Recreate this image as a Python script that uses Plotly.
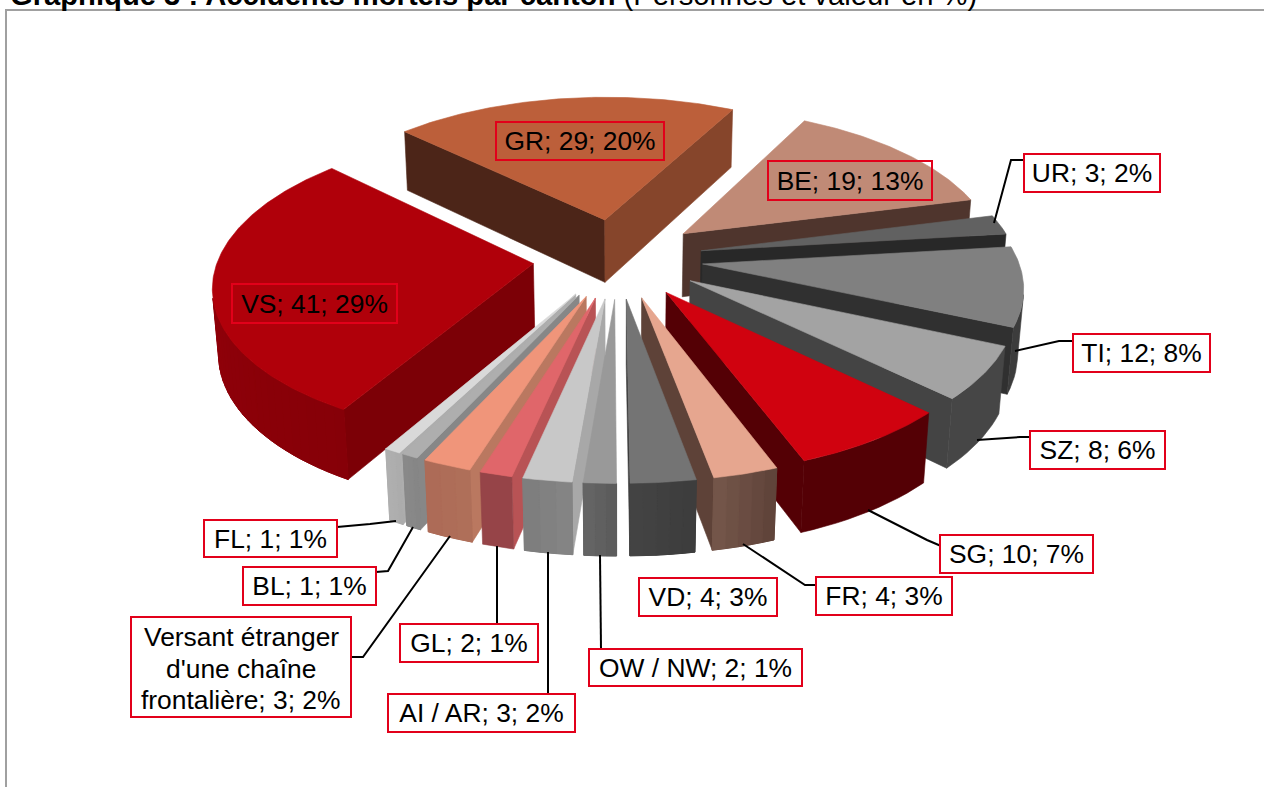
import math
import plotly.graph_objects as go

# ---- data (clockwise from the back-left edge of GR) ----
cantons = ["GR", "BE", "UR", "TI", "SZ", "SG", "FR", "VD", "OW / NW", "AI / AR", "GL",
           "Versant étranger<br>d'une chaîne<br>frontalière", "BL", "FL", "VS"]
persons = [29, 19, 3, 12, 8, 10, 4, 4, 2, 3, 2, 3, 1, 1, 41]
percent = [20, 13, 2, 8, 6, 7, 3, 3, 1, 2, 1, 2, 1, 1, 29]

# ---- styles ----
top_col = ["#BC5F3A", "#C08A76", "#616161", "#808080", "#A3A3A3", "#D0020F", "#E6A68F", "#747474",
           "#999999", "#C8C8C8", "#E0666A", "#F0957A", "#AEAEAE", "#D9D9D9", "#B0000A"]
face0_col = ["#4C2518", "#4F352D", "#282828", "#303030", "#444444", "#540005", "#5E4238", "#3C3C3C",
             "#A8A8A8", "#A8A8A8", "#B85355", "#BA7860", "#878787", "#ADADAD", "#7C0006"]
face1_col = ["#86452B", "#4F352D", "#282828", "#303030", "#444444", "#540005", "#5E4238", "#3C3C3C",
             "#A8A8A8", "#A8A8A8", "#B85355", "#BA7860", "#878787", "#ADADAD", "#7C0006"]
rim0_col = ["#4C2518", "#4F352D", "#333333", "#3C3C3C", "#464646", "#540005", "#5E4238", "#3C3C3C",
            "#5A5A5A", "#868686", "#964448", "#B0705A", "#858585", "#ABABAB", "#860008"]
rim1_col = ["#4C2518", "#4F352D", "#333333", "#3C3C3C", "#464646", "#540005", "#75574B", "#444444",
            "#666666", "#7C7C7C", "#964448", "#AC6A56", "#8A8A8A", "#B0B0B0", "#9A000A"]

# ---- camera ----
START = -46.0
EXPLODE = 0.27
CX, CY, SX, SY, SZ_, K, M = 618.0, 258.0, 315.0, 148.0, 65.0, 0.131, 0.015


def proj(x, y, z):
    s = 1.0 / (1.0 + K * y - M * z)
    return CX + SX * x * s, CY - SY * y * s - SZ_ * z * s


def area(p):
    return sum(p[i][0] * p[(i + 1) % len(p)][1] - p[(i + 1) % len(p)][0] * p[i][1] for i in range(len(p)))


def mix(c0, c1, t):
    a = [int(c0[i:i + 2], 16) for i in (1, 3, 5)]
    b = [int(c1[i:i + 2], 16) for i in (1, 3, 5)]
    return "#%02X%02X%02X" % tuple(round(u + (v - u) * t) for u, v in zip(a, b))


fig = go.Figure()


def poly(pts, col, w=0.6):
    fig.add_trace(go.Scatter(x=[p[0] for p in pts] + [pts[0][0]], y=[p[1] for p in pts] + [pts[0][1]],
                             mode="lines", fill="toself", fillcolor=col,
                             line=dict(color=col, width=w), hoverinfo="skip", showlegend=False))


total = sum(persons)
spans, a = [], START
for v in persons:
    spans.append((a, a + 360.0 * v / total))
    a += 360.0 * v / total

order = sorted(range(len(persons)), key=lambda i: -math.cos(math.radians(sum(spans[i]) / 2)))
for i in order:
    a0, a1 = spans[i]
    mid = math.radians((a0 + a1) / 2)
    ox, oy = EXPLODE * math.sin(mid), EXPLODE * math.cos(mid)

    def rim(th, z):
        r = math.radians(th)
        return proj(ox + math.sin(r), oy + math.cos(r), z)

    tip_t, tip_b = proj(ox, oy, 0), proj(ox, oy, -1)
    f0 = [tip_t, rim(a0, 0), rim(a0, -1), tip_b]
    f1 = [tip_t, rim(a1, 0), rim(a1, -1), tip_b]
    if area(f0) < 0:
        poly(f0, face0_col[i])
    if area(f1) > 0:
        poly(f1, face1_col[i])
    n = max(3, int((a1 - a0) / 2))
    ths = [a0 + (a1 - a0) * j / n for j in range(n + 1)]
    # whole visible wall first, in one piece, so that no seams show through
    vis = [j for j in range(n) if area([rim(ths[j], 0), rim(ths[j + 1], 0), rim(ths[j + 1], -1), rim(ths[j], -1)]) < 0]
    if vis:
        band = ths[vis[0]:vis[-1] + 2]
        poly([rim(t, 0) for t in band] + [rim(t, -1) for t in reversed(band)], mix(rim0_col[i], rim1_col[i], 0.5))
        if rim0_col[i] != rim1_col[i]:
            for j in vis:
                q = [rim(ths[j], 0), rim(ths[j + 1], 0), rim(ths[j + 1], -1), rim(ths[j], -1)]
                poly(q, mix(rim0_col[i], rim1_col[i], (j + 0.5) / n), 1.0)
    fine = [a0 + (a1 - a0) * j / (3 * n) for j in range(3 * n + 1)]
    poly([tip_t] + [rim(t, 0) for t in fine], top_col[i])

# ---- layout: label boxes (left, top, right, bottom), leader lines ----
boxes = {"GR": (496, 122, 664, 160), "BE": (768, 161, 932, 200), "UR": (1024, 154, 1160, 192),
         "TI": (1073, 334, 1210, 372), "SZ": (1030, 431, 1165, 469), "SG": (940, 535, 1093, 573),
         "FR": (816, 577, 952, 615), "VD": (639, 578, 777, 616), "OW / NW": (589, 649, 802, 686),
         "AI / AR": (388, 694, 575, 732), "GL": (400, 624, 538, 662),
         cantons[11]: (131, 617, 351, 717), "BL": (243, 567, 376, 605), "FL": (204, 520, 337, 557),
         "VS": (232, 284, 397, 323)}
leaders = [[(994, 223), (1011, 160), (1024, 160)], [(1015, 351), (1059, 341), (1073, 341)],
           [(977, 440), (1020, 437), (1030, 437)], [(868, 510), (927, 540), (941, 546)],
           [(743, 544), (805, 585), (816, 585)], [(600, 555), (601, 649)], [(548, 552), (548, 694)],
           [(497, 546), (497, 624)], [(450, 536), (363, 657), (351, 657)],
           [(413, 527), (388, 571), (376, 572)], [(396, 521), (370, 524), (337, 527)]]

shapes = [dict(type="rect", x0=6, y0=10, x1=1400, y1=900, line=dict(color="#A0A0A0", width=2), layer="below")]
for pts in leaders:
    path = "M " + " L ".join(f"{x},{y}" for x, y in pts)
    shapes.append(dict(type="path", path=path, line=dict(color="black", width=2)))

LABEL_FONT = dict(family="Liberation Sans", size=26.4, color="black")
annotations = []
for name, v, p in zip(cantons, persons, percent):
    l, t, r, b = boxes[name]
    inside = name in ("GR", "BE", "VS")
    lines = f"{name}; {v}; {p}%".split("<br>")
    if len(lines) == 1:
        annotations.append(dict(x=(l + r) / 2, y=(t + b) / 2, xref="x", yref="y", showarrow=False,
                                text=lines[0], font=LABEL_FONT,
                                width=r - l - 2, height=b - t - 2, align="center", valign="middle",
                                bordercolor="#E2001A", borderwidth=2, borderpad=0,
                                bgcolor="rgba(0,0,0,0)" if inside else "white"))
    else:
        # the box and its lines apart, for the tighter line spacing of the reference
        shapes.append(dict(type="rect", x0=l, y0=t, x1=r, y1=b, fillcolor="white",
                           line=dict(color="#E2001A", width=2)))
        for k, txt in enumerate(lines):
            annotations.append(dict(x=(l + r) / 2, y=(t + b) / 2 + 1.5 + (k - 1) * 31.5, xref="x", yref="y",
                                    showarrow=False, text=txt, font=LABEL_FONT))
annotations.append(dict(x=8, y=13, xref="x", yref="y", xanchor="left", yanchor="bottom", showarrow=False,
                        text="<b>Graphique 3 : Accidents mortels par canton</b> (Personnes et valeur en %)",
                        font=dict(family="Liberation Sans", size=29.2, color="black")))

fig.update_layout(width=1264, height=787, margin=dict(l=0, r=0, t=0, b=0), autosize=False,
                  paper_bgcolor="white", plot_bgcolor="white", showlegend=False,
                  xaxis=dict(range=[0, 1264], visible=False, fixedrange=True),
                  yaxis=dict(range=[787, 0], visible=False, fixedrange=True),
                  shapes=shapes, annotations=annotations)
fig.write_html("out.html", config={"displayModeBar": False},
               post_script="document.body.style.margin='0';document.body.style.overflow='hidden';")
